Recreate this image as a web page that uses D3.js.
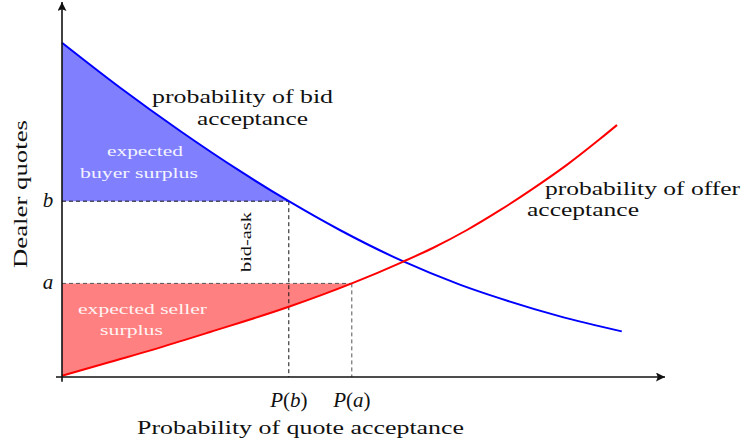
<!DOCTYPE html>
<html>
<head>
<meta charset="utf-8">
<script src="https://cdn.jsdelivr.net/npm/d3@7"></script>
<style>
  body { margin: 0; background: #fff; }
  text { font-family: "Liberation Serif", serif; fill: #111; }
</style>
</head>
<body>
<svg id="chart" width="742" height="444"></svg>
<script>
// bid acceptance curve (blue)
const bidX = [0, 0.97, 1.97, 2.97, 3.78, 4.63, 5.68, 6.63, 7.3, 8.3, 9.33];
const bidY = [5.57, 4.82, 4.1, 3.43, 2.93, 2.45, 1.93, 1.54, 1.31, 1.01, 0.76];

// offer acceptance curve (red)
const offerX = [0, 0.8, 1.63, 2.47, 3.78, 4.83, 5.68, 6.18, 6.75, 7.3, 7.85, 8.42, 8.97, 9.25];
const offerY = [0.02, 0.25, 0.49, 0.75, 1.17, 1.56, 1.92, 2.15, 2.45, 2.78, 3.14, 3.54, 3.97, 4.2];

// quotes and their acceptance probabilities
const quoteNames = ["b", "a"];
const quoteValues = [2.93, 1.56];
const quoteProbs = [3.78, 4.83];

const w = 742, h = 444;
const svg = d3.select("#chart");

const x = d3.scaleLinear().domain([0, 10]).range([62, 662]);
const y = d3.scaleLinear().domain([0, 6]).range([377, 17]);

const bid = bidX.map((d, i) => [d, bidY[i]]);
const offer = offerX.map((d, i) => [d, offerY[i]]);

const b = quoteValues[0], a = quoteValues[1];
const pb = quoteProbs[0], pa = quoteProbs[1];

const defs = svg.append("defs");

defs.append("clipPath").attr("id", "clipB")
  .append("rect")
  .attr("x", x(0)).attr("y", 0)
  .attr("width", x(pb) - x(0)).attr("height", h);

defs.append("clipPath").attr("id", "clipA")
  .append("rect")
  .attr("x", x(0)).attr("y", 0)
  .attr("width", x(pa) - x(0)).attr("height", h);

defs.append("marker")
  .attr("id", "arrow")
  .attr("markerUnits", "userSpaceOnUse")
  .attr("viewBox", "0 0 10 10")
  .attr("refX", 10).attr("refY", 5)
  .attr("markerWidth", 10).attr("markerHeight", 9)
  .attr("orient", "auto")
  .append("path")
  .attr("d", "M0,0 L10,5 L0,10 L2,5 Z")
  .attr("fill", "#111");

// surplus areas
svg.append("path")
  .datum(bid)
  .attr("clip-path", "url(#clipB)")
  .attr("fill", "#8080ff")
  .attr("d", d3.area()
    .x(d => x(d[0]))
    .y0(y(b))
    .y1(d => y(d[1]))
    .curve(d3.curveMonotoneX));

svg.append("path")
  .datum(offer)
  .attr("clip-path", "url(#clipA)")
  .attr("fill", "#ff8080")
  .attr("d", d3.area()
    .x(d => x(d[0]))
    .y0(d => y(d[1]))
    .y1(y(a))
    .curve(d3.curveMonotoneX));

// dashed guides
const dashColor = ["#111", "#555"];
quoteValues.forEach((q, i) => {
  svg.append("line")
    .attr("x1", x(0)).attr("x2", x(quoteProbs[i]))
    .attr("y1", y(q)).attr("y2", y(q))
    .attr("stroke", dashColor[i])
    .attr("stroke-width", 1)
    .attr("stroke-dasharray", "4,3");
  svg.append("line")
    .attr("x1", x(quoteProbs[i])).attr("x2", x(quoteProbs[i]))
    .attr("y1", y(q)).attr("y2", y(0))
    .attr("stroke", dashColor[i])
    .attr("stroke-width", 1)
    .attr("stroke-dasharray", "4,3");
});

const line = d3.line()
  .x(d => x(d[0]))
  .y(d => y(d[1]))
  .curve(d3.curveMonotoneX);

svg.append("path")
  .datum(bid)
  .attr("fill", "none")
  .attr("stroke", "#0000ff")
  .attr("stroke-width", 2)
  .attr("d", line);

svg.append("path")
  .datum(offer)
  .attr("fill", "none")
  .attr("stroke", "#ff0000")
  .attr("stroke-width", 2)
  .attr("d", line);

// axes
svg.append("line")
  .attr("x1", x(-0.1)).attr("x2", x(10.05))
  .attr("y1", y(0)).attr("y2", y(0))
  .attr("stroke", "#111")
  .attr("stroke-width", 1.6)
  .attr("marker-end", "url(#arrow)");

svg.append("line")
  .attr("x1", x(0)).attr("x2", x(0))
  .attr("y1", y(-0.08)).attr("y2", y(6.25))
  .attr("stroke", "#111")
  .attr("stroke-width", 1.6)
  .attr("marker-end", "url(#arrow)");

// quote labels on the y axis
quoteNames.forEach((n, i) => {
  svg.append("text")
    .text(n)
    .attr("x", x(0) - 14)
    .attr("y", y(quoteValues[i]) + 6)
    .attr("text-anchor", "middle")
    .attr("font-style", "italic")
    .attr("font-size", "21px");
});

// probability labels on the x axis
quoteNames.forEach((n, i) => {
  const t = svg.append("text")
    .attr("x", x(quoteProbs[i]))
    .attr("y", 407)
    .attr("text-anchor", "middle")
    .attr("font-size", "21px");
  t.append("tspan").attr("font-style", "italic").text("P");
  t.append("tspan").text("(");
  t.append("tspan").attr("font-style", "italic").text(n);
  t.append("tspan").text(")");
});

function label(str, px, py, size, len, fill) {
  return svg.append("text")
    .text(str)
    .attr("x", px)
    .attr("y", py)
    .attr("font-size", size + "px")
    .attr("textLength", len)
    .attr("lengthAdjust", "spacingAndGlyphs")
    .style("fill", fill || "#111");
}

label("Probability of quote acceptance", 137, 434, 18, 327);
label("probability of bid", 152, 103, 18, 181);
label("acceptance", 197, 125, 18, 111);
label("probability of offer", 545, 195, 18, 195);
label("acceptance", 527, 216, 18, 112);

label("expected", 107, 156, 15, 76, "#f4f4ff");
label("buyer surplus", 80, 178, 15, 118, "#f4f4ff");
label("expected seller", 78, 314, 15, 129, "#fff4f4");
label("surplus", 100, 335, 15, 63, "#fff4f4");

label("Dealer quotes", 0, 0, 18, 148)
  .attr("transform", "translate(27,268) rotate(-90)");

label("bid-ask", 0, 0, 15, 60)
  .attr("transform", "translate(251,272) rotate(-90)");
</script>
</body>
</html>
